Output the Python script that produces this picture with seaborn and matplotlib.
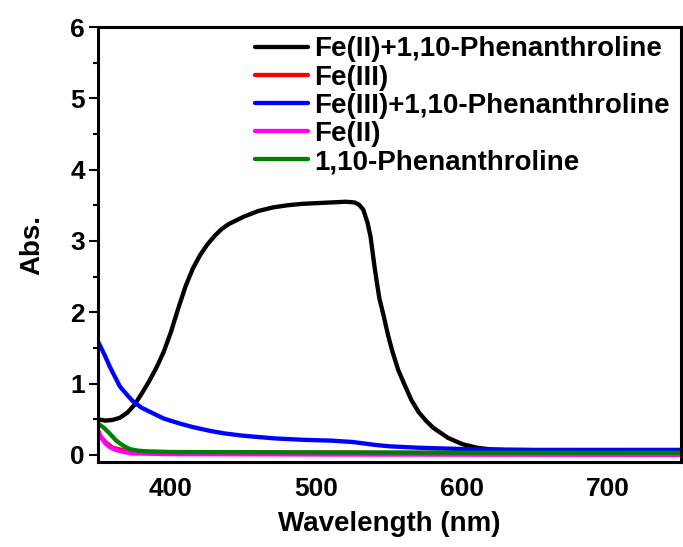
import pandas as pd
import matplotlib
matplotlib.use('Agg')
import matplotlib.pyplot as plt
import seaborn as sns
from matplotlib.ticker import MultipleLocator

# spectra
wl_fe2_phen = [350, 355, 360, 365, 370, 375, 380, 385, 390, 395, 400, 405, 410, 415, 420,
               425, 430, 435, 440, 450, 460, 470, 480, 490, 500, 510, 520, 526, 529, 532,
               535, 537, 540, 543, 546, 549, 552, 556, 560, 565, 570, 575, 580, 590, 600,
               610, 620, 630, 650, 700, 750]
abs_fe2_phen = [0.50, 0.48, 0.49, 0.52, 0.59, 0.70, 0.86, 1.03, 1.22, 1.44, 1.72, 2.05, 2.36,
                2.61, 2.80, 2.95, 3.07, 3.17, 3.24, 3.34, 3.42, 3.47, 3.50, 3.52, 3.53, 3.54,
                3.55, 3.54, 3.51, 3.44, 3.25, 3.06, 2.60, 2.20, 1.95, 1.68, 1.45, 1.19, 1.00,
                0.77, 0.60, 0.48, 0.38, 0.24, 0.15, 0.10, 0.075, 0.065, 0.06, 0.05, 0.05]

wl_fe3 = [350, 355, 360, 370, 380, 500, 750]
abs_fe3 = [0.30, 0.18, 0.10, 0.05, 0.035, 0.03, 0.025]

wl_fe3_phen = [350, 355, 358, 362, 365, 370, 374, 380, 388, 395, 406, 415, 426, 437, 449,
               460, 472, 492, 510, 525, 540, 550, 570, 603, 650, 750]
abs_fe3_phen = [1.59, 1.38, 1.24, 1.08, 0.96, 0.84, 0.75, 0.66, 0.58, 0.51, 0.44, 0.39, 0.34,
                0.30, 0.27, 0.25, 0.23, 0.21, 0.20, 0.18, 0.14, 0.12, 0.10, 0.08, 0.07, 0.07]

wl_fe2 = [350, 352, 355, 358, 362, 368, 374, 400, 500, 750]
abs_fe2 = [0.35, 0.25, 0.16, 0.11, 0.07, 0.04, 0.02, 0.01, 0.005, 0.0]

wl_phen = [350, 354, 358, 362, 365, 368, 372, 377, 383, 400, 500, 600, 750]
abs_phen = [0.44, 0.38, 0.30, 0.21, 0.16, 0.12, 0.08, 0.06, 0.05, 0.04, 0.035, 0.03, 0.03]

names = ['Fe(II)+1,10-Phenanthroline', 'Fe(III)', 'Fe(III)+1,10-Phenanthroline',
         'Fe(II)', '1,10-Phenanthroline']
colors = ['black', '#ff0000', '#0000ff', '#ff00ff', '#008000']

series = [(wl_fe2_phen, abs_fe2_phen), (wl_fe3, abs_fe3), (wl_fe3_phen, abs_fe3_phen),
          (wl_fe2, abs_fe2), (wl_phen, abs_phen)]
frames = []
for name, (w, a) in zip(names, series):
    frames.append(pd.DataFrame({'Wavelength': w, 'Abs': a, 'Sample': name}))
df = pd.concat(frames, ignore_index=True)

sns.set_style('ticks')
plt.rcParams['font.family'] = ['Liberation Sans', 'DejaVu Sans']
plt.rcParams['font.weight'] = 'bold'
for key in ['text.color', 'axes.labelcolor', 'xtick.color', 'ytick.color', 'axes.edgecolor']:
    plt.rcParams[key] = 'black'

fig = plt.figure(figsize=(6.83, 5.47), dpi=100)
ax = fig.add_axes([0.1435, 0.1554, 0.997 - 0.1435, 0.9506 - 0.1554])

sns.lineplot(data=df, x='Wavelength', y='Abs', hue='Sample', hue_order=names,
             palette=colors, estimator=None, linewidth=3.1, ax=ax)

ax.set_xlim(350, 750)
ax.set_ylim(-0.1, 6)
ax.set_xticks([400, 500, 600, 700])
ax.yaxis.set_major_locator(MultipleLocator(1))
ax.yaxis.set_minor_locator(MultipleLocator(0.5))
ax.tick_params(axis='x', length=0, labelsize=19, pad=11)
ax.tick_params(axis='y', which='major', length=6.5, width=1.5, labelsize=19, pad=3)
ax.tick_params(axis='y', which='minor', length=3.5, width=1.5)
for lbl in ax.get_xticklabels() + ax.get_yticklabels():
    lbl.set_fontweight('bold')
for sp in ax.spines.values():
    sp.set_linewidth(2.2)

ax.set_xlabel('Wavelength (nm)', fontsize=20, fontweight='bold', labelpad=7)
ax.set_ylabel('Abs.', fontsize=20, fontweight='bold', labelpad=18)

ax.legend(loc='upper right', bbox_to_anchor=(0.985, 0.985), frameon=False,
          handlelength=1.9, handletextpad=0.2, labelspacing=0.08,
          borderaxespad=0, borderpad=0.1, prop={'weight': 'bold', 'size': 20})

fig.savefig('out.png', dpi=100)
